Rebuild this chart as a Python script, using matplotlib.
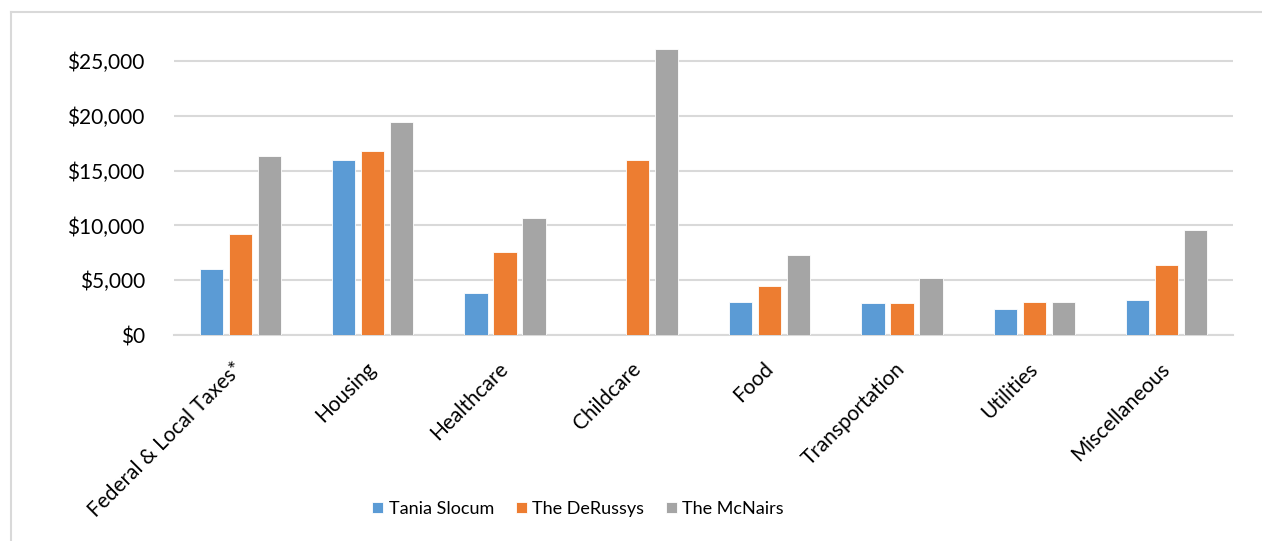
import numpy as np
import matplotlib
matplotlib.use("Agg")
import matplotlib.pyplot as plt
import matplotlib.transforms as mtransforms
from matplotlib.lines import Line2D
from matplotlib.ticker import FuncFormatter

categories = ['Federal & Local Taxes*', 'Housing', 'Healthcare', 'Childcare',
              'Food', 'Transportation', 'Utilities', 'Miscellaneous']
series_names = ['Tania Slocum', 'The DeRussys', 'The McNairs']
tania = [6000, 16000, 3800, 0, 3000, 2900, 2400, 3200]
derussys = [9200, 16800, 7600, 16000, 4500, 2900, 3000, 6400]
mcnairs = [16300, 19400, 10700, 26100, 7300, 5200, 3000, 9600]
colors = ['#5B9BD5', '#ED7D31', '#A5A5A5']

plt.rcParams['font.family'] = ['Lato', 'DejaVu Sans']

W, H = 1262, 541
fig = plt.figure(figsize=(W / 100, H / 100), dpi=100)

# plot area in pixels: x 174..1233, $0 at y=335, 5000 per 54.8 px
ymax = 27000
px_per_unit = 54.8 / 5000
ax_h = ymax * px_per_unit
ax = fig.add_axes([174 / W, (H - 335) / H, (1233 - 174) / W, ax_h / H])

x = np.arange(len(categories))
offsets = [-0.219, 0, 0.219]
for vals, off, c, name in zip([tania, derussys, mcnairs], offsets, colors, series_names):
    ax.bar(x + off, vals, width=0.176, color=c, label=name, zorder=3,
           edgecolor='white', linewidth=0.6)

ax.set_xlim(-0.5, len(categories) - 0.5)
ax.set_ylim(0, ymax)
ax.set_yticks(np.arange(0, 25001, 5000))
ax.yaxis.set_major_formatter(FuncFormatter(lambda v, p: '${:,.0f}'.format(v)))
ax.grid(axis='y', color='#d9d9d9', linewidth=1.5, zorder=0)
for s in ['top', 'right', 'left']:
    ax.spines[s].set_visible(False)
ax.spines['bottom'].set_color('#d9d9d9')
ax.spines['bottom'].set_linewidth(1.5)
ax.tick_params(axis='both', length=0, labelsize=15, colors='black')
ax.tick_params(axis='y', pad=21)
ax.set_xticks(x)
ax.set_xticklabels(categories, rotation=45, ha='right', rotation_mode='anchor')
ax.tick_params(axis='x', pad=17)
# nudge the rotated labels a little to the left
shift = mtransforms.ScaledTranslation(-7 / 100, 0, fig.dpi_scale_trans)
for lbl in ax.get_xticklabels():
    lbl.set_transform(lbl.get_transform() + shift)

fig.legend(loc='center', bbox_to_anchor=(578 / W, 1 - 509 / H), ncol=3,
           frameon=False, fontsize=13, handlelength=0.62, handleheight=0.62,
           columnspacing=1.2, handletextpad=0.3)

# chart border (light gray)
fig.add_artist(Line2D([11 / W, 11 / W], [0, 1 - 12 / H], color='#d9d9d9', lw=1.5,
                      transform=fig.transFigure))
fig.add_artist(Line2D([11 / W, 1], [1 - 12 / H, 1 - 12 / H], color='#d9d9d9', lw=1.5,
                      transform=fig.transFigure))

fig.savefig('out.png', dpi=100)
